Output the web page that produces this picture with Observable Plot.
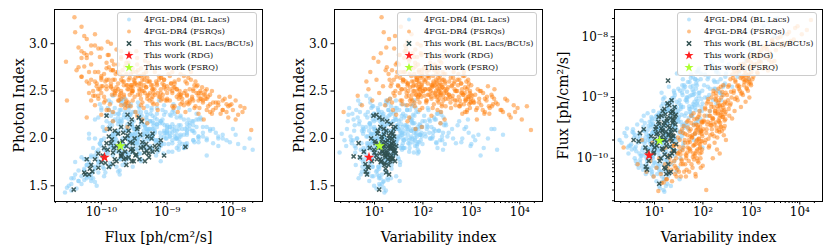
<!DOCTYPE html>
<html><head><meta charset="utf-8">
<script src="https://cdn.jsdelivr.net/npm/d3@7"></script>
<script src="https://cdn.jsdelivr.net/npm/@observablehq/plot@0.6"></script>
<style>
body{margin:0;background:#fff;}
#fig{position:relative;width:830px;height:251px;overflow:hidden;background:#fff;font-family:"DejaVu Serif","Liberation Serif",serif;}
#fig svg, #fig svg text{font-family:"DejaVu Serif","Liberation Serif",serif !important;}
.panel{position:absolute;top:0;}
.legend{position:absolute;top:12px;width:140px;height:64px;background:rgba(255,255,255,0.8);border:1px solid #cccccc;border-radius:3px;box-sizing:border-box;}
.legend svg{position:absolute;left:0;top:0;overflow:visible;}
</style></head><body><div id="fig"></div>
<script>
// Each source: [flux in units of 1e-10 ph/cm^2/s, photon index, variability index]
const FLUX_UNIT = 1e-10;

const blLacs = [
[1.8,2.05,2.1],[2.3,1.92,2.6],[1.5,2.18,2.8],[2.6,1.98,2.4],[1.2,2.25,2.9],[3.1,2.10,2.7],[2.0,1.85,1.9],[1.6,2.32,3.0],
[1.4,1.95,3.4],[2.2,2.08,3.8],[0.9,1.72,4.1],[1.8,2.22,4.5],[3.0,1.98,3.6],[1.1,1.88,5.2],[2.5,2.15,4.8],[0.75,1.65,5.5],[1.6,2.02,3.2],[2.9,1.90,5.9],[1.3,2.30,4.2],[0.85,1.80,5.0],[2.0,2.12,5.7],[3.6,2.00,4.4],[1.0,1.92,3.9],[1.9,1.78,5.3],[2.7,2.26,3.5],[0.7,1.58,4.7],[1.5,2.05,5.8],[2.4,1.85,4.0],[1.2,2.18,4.9],[4.2,1.95,5.4],[0.95,2.36,5.1],[1.7,1.98,3.3],[2.1,2.40,4.6],[1.35,1.70,5.6],[3.3,2.10,5.9],[0.8,2.00,4.3],[1.9,1.62,5.2],[2.6,2.20,3.7],[1.1,2.08,5.5],[1.55,1.90,4.1],[0.65,1.75,5.8],[2.3,2.28,5.0],[1.45,2.14,3.9],
[1.2,1.88,6.2],[2.5,2.02,6.8],[0.6,1.62,7.1],[3.4,1.95,7.5],[1.8,2.15,8.0],[0.9,1.75,8.4],[4.5,2.05,8.9],[1.5,1.98,9.3],[2.2,2.25,6.5],[0.7,1.55,7.8],[1.3,2.10,9.7],[2.8,1.85,6.1],[5.5,1.92,7.2],[1.0,2.32,8.6],[1.7,1.70,9.0],[3.0,2.12,9.9],[0.55,1.68,6.6],[2.0,1.90,7.4],[1.4,2.38,8.2],[6.0,2.00,9.5],[0.8,1.82,6.9],[2.4,2.08,7.7],[1.1,1.60,8.8],[3.8,1.78,6.3],[1.6,2.20,9.2],[0.95,1.95,7.0],[2.1,2.42,8.1],[1.25,1.84,9.6],[4.0,2.16,7.9],[0.65,2.05,8.5],[1.9,1.66,6.4],[2.7,1.96,9.1],[1.45,2.28,7.3],[0.85,1.50,9.8],[3.2,2.04,8.3],[1.05,2.12,6.7],[2.3,1.80,7.6],[1.65,2.00,8.7],[0.75,1.90,9.4],[5.0,2.08,6.0],[1.35,1.74,8.0],[2.6,2.34,9.0],[0.9,2.22,7.1],[1.75,1.86,6.2],[3.6,1.94,8.4],[1.15,1.64,7.5],[2.05,2.18,9.8],[0.6,1.78,8.9],[1.5,2.45,6.8],[2.9,2.02,7.2],[1.0,1.98,9.3],[4.8,1.88,8.6],[1.85,2.26,9.6],[0.7,1.72,6.5],[2.2,1.92,7.8],
[1.5,1.92,10.5],[3.0,2.05,11.2],[0.8,1.70,12.0],[5.2,1.98,12.8],[2.0,2.20,13.5],[0.5,1.52,14.2],[8.0,2.02,15.0],[1.2,1.85,15.8],[3.8,2.12,16.5],[0.35,1.45,17.2],[2.5,1.78,18.0],[6.5,2.08,18.8],[1.0,2.30,19.5],[1.8,1.65,10.8],[4.2,1.90,11.6],[0.65,1.60,12.4],[2.8,2.25,13.2],[12.0,1.95,14.0],[1.4,2.02,14.8],[0.45,1.55,15.6],[3.5,1.82,16.4],[2.2,2.35,17.2],[0.9,1.76,18.0],[7.0,2.15,18.8],[1.6,1.96,19.6],[2.6,2.10,10.2],[0.7,1.82,11.0],[4.8,2.22,11.8],[1.1,1.68,12.6],[3.2,1.94,13.4],[0.4,1.62,14.2],[9.5,2.00,15.0],[1.9,2.18,15.8],[5.8,1.88,16.6],[1.3,2.40,17.4],[0.6,1.72,18.2],[2.4,1.84,19.0],[15.0,1.92,19.8],[1.7,2.06,10.6],[0.55,1.66,11.4],[3.6,2.28,12.2],[2.1,1.80,13.0],[1.0,1.98,13.8],[4.5,2.04,14.6],[0.3,1.48,15.4],[2.9,2.14,16.2],[1.45,1.90,17.0],[6.0,1.86,17.8],[0.8,2.20,18.6],[2.3,1.74,19.4],[3.4,2.00,10.9],[1.25,2.32,11.7],[0.75,1.58,12.5],[5.5,2.10,13.3],[1.55,1.86,14.1],[2.7,2.24,14.9],[0.95,1.94,15.7],[4.0,1.76,16.5],[1.15,2.08,17.3],[7.5,1.96,18.1],[0.5,1.80,18.9],[2.0,2.38,19.7],[3.0,1.70,12.1],[1.35,2.16,13.9],[10.0,2.06,16.0],[0.65,2.00,17.6],[2.5,1.92,11.3],[1.8,2.26,15.3],[0.4,1.75,13.6],[3.9,1.84,19.2],
[0.28,1.43,16],[0.32,1.50,13],[0.42,1.47,11],
[3.0,1.98,20.5],[6.0,2.05,22.0],[1.5,1.82,23.5],[10.0,2.10,25.0],[2.2,2.22,26.5],[0.6,1.60,28.0],[4.5,1.92,29.5],[14.0,2.00,31.0],[2.6,2.30,32.5],[1.0,1.75,34.0],[7.0,2.15,35.5],[3.5,1.88,37.0],[20.0,1.95,38.5],[1.8,2.08,39.5],[5.0,2.25,21.0],[0.8,1.68,22.5],[3.8,2.02,24.0],[12.0,1.86,25.5],[2.0,1.96,27.0],[8.5,2.20,28.5],[1.3,2.12,30.0],[4.0,1.78,31.5],[0.45,1.55,33.0],[6.5,2.06,34.5],[2.8,2.36,36.0],[16.0,2.04,37.5],[1.6,1.90,39.0],[9.0,1.94,21.5],[2.4,1.84,23.0],[5.5,2.18,24.5],[1.1,2.00,26.0],[3.2,2.28,27.5],[25.0,1.98,29.0],[0.7,1.80,30.5],[4.8,2.10,32.0],[2.1,1.72,33.5],[7.5,1.90,35.0],[1.4,2.24,36.5],[11.0,2.12,38.0],[3.6,1.98,39.8],[2.9,2.16,20.2],[0.35,1.58,21.8],[6.8,1.82,24.8],[1.9,2.40,27.8],[4.2,2.02,30.8],[13.0,2.08,33.8],[2.3,1.92,36.8],[0.9,1.88,25.8],[5.8,2.32,28.8],[8.0,1.76,22.8],
[5.0,2.05,42],[10.0,2.12,46],[3.0,1.95,50],[15.0,2.00,55],[7.0,2.20,60],[2.0,1.85,65],[20.0,2.08,70],[8.0,1.92,75],[4.0,2.28,80],[12.0,2.15,85],[25.0,1.98,90],[6.0,2.02,95],[9.0,2.35,44],[3.5,2.10,48],[18.0,1.90,53],[5.5,2.18,58],[11.0,2.25,63],[2.5,2.00,68],[14.0,2.04,72],[7.5,1.88,78],[30.0,1.96,83],[4.5,2.14,88],[9.5,2.06,93],[1.5,1.94,98],[16.0,2.22,41],[6.5,1.98,52],[22.0,2.10,62],[3.8,2.32,71],[10.5,1.86,82],[13.0,2.12,97],[5.2,2.08,57],[8.5,2.16,67],[19.0,1.94,77],[2.8,2.04,87],[12.5,2.30,47],
[10,2.05,110],[20,2.12,125],[6,2.18,140],[30,2.00,155],[14,2.22,170],[8,1.95,190],[25,2.08,210],[12,2.28,230],[40,1.98,250],[16,2.14,275],[5,2.10,120],[35,2.02,160],[18,1.90,200],[9,2.25,240],[22,2.16,290],[11,2.06,135],[28,2.20,185],[15,1.88,260],
[30,2.02,320],[15,2.10,400],[50,1.95,480],[25,2.18,560],[70,2.00,650],[40,2.12,780],[20,2.06,880],[60,1.92,960],
[80,1.98,1200],[150,1.90,1800],[50,2.10,2600],[200,1.88,3400],[110,2.04,4500],
[2.4,2.12,8.3],[3.5,1.96,9.1],[1.6,2.26,9.9],[4.4,2.08,10.4],[2.9,1.88,11.1],[1.9,2.30,11.9],[5.6,2.02,12.3],[3.1,2.18,12.9],[2.1,1.94,13.7],[6.2,2.14,14.3],[1.7,2.06,14.9],[3.7,2.34,9.4],[2.6,1.82,10.1],[4.9,2.20,10.7],[1.45,2.00,11.5],[3.3,2.10,12.7],[2.3,2.36,13.1],[7.2,1.98,13.9],[1.95,1.78,14.5],[4.1,2.24,8.7],[2.75,2.04,9.7],[1.35,1.92,12.2],[5.1,1.90,11.3],[3.0,2.28,14.1],[0.85,1.86,10.3],[2.0,2.16,8.1],[0.6,1.58,13.3],[1.05,1.70,9.2],
[3.2,2.10,15.2],[5.0,2.00,16.1],[2.4,2.22,16.9],[7.8,2.06,17.7],[3.9,1.92,18.5],[2.0,2.30,19.3],[6.2,2.16,20.1],[4.4,1.98,21.0],[2.7,2.34,21.9],[9.0,2.08,22.8],[3.4,2.02,23.7],[5.6,2.26,24.6],[2.2,1.90,25.5],[11.0,2.12,26.4],[4.0,2.20,27.3],[6.8,1.96,28.2],[2.9,2.14,29.1],[1.5,2.04,15.8],[3.6,2.38,17.3],[8.2,1.94,18.9],[2.5,2.08,20.5],[4.8,2.28,22.1],[1.8,2.18,23.9],[13.0,2.02,25.1],[3.0,1.86,26.9],[5.3,2.10,28.7],[2.1,2.00,16.4],[6.0,2.24,19.7],[3.3,2.06,24.3],[1.2,1.88,21.3],[7.0,2.32,27.0],[4.6,2.14,29.8],[0.9,1.64,18.1],[1.4,1.72,22.6],[0.55,1.56,19.0],[2.6,1.80,17.0],[9.8,2.00,23.3],[3.7,1.84,26.1],[5.9,1.90,15.5],[2.3,2.42,20.8],
[6.0,2.10,31],[9.0,2.02,33],[4.0,2.20,35],[12.0,2.06,37],[7.0,2.26,39],[3.2,1.98,41],[15.0,2.14,43],[5.5,2.00,45],[8.5,2.30,47],[18.0,2.04,49],[4.6,2.12,51],[10.5,1.94,53],[6.5,2.22,55],[24.0,2.08,57],[5.0,2.34,59],[13.5,2.00,61],[7.8,2.16,63],[3.6,2.06,65],[11.5,2.24,67],[20.0,1.92,69],[6.2,2.10,71],[9.5,2.28,73],[16.0,2.02,75],[4.4,1.96,77],[28.0,2.12,79],[8.0,2.18,32],[5.2,2.04,36],[14.0,1.90,40],[3.8,2.24,44],[10.0,2.08,48],[7.2,1.86,52],[21.0,2.20,56],[4.9,2.16,60],[12.5,2.36,64],[6.8,1.98,68],[17.0,2.10,72],[2.6,2.00,38],[9.2,2.14,46],[5.8,2.30,54],[15.5,1.96,62],[3.4,1.90,42],[11.0,2.02,58],[7.5,2.40,66],[26.0,2.06,74],[8.8,1.84,78],
[12,2.10,82],[20,2.04,90],[8,2.18,98],[16,2.24,106],[30,2.02,114],[10,2.14,122],[22,2.30,130],[14,2.00,140],[35,2.12,150],[9,2.06,162],[18,2.20,175],[26,1.96,188],[13,2.26,202],[45,2.08,216],[20,2.16,232],[11,2.02,248],[32,2.22,266],[17,1.94,284],[7,2.12,94],[24,2.18,110],[15,2.32,126],[40,2.00,144],[19,2.10,168],[28,2.26,195],[12,1.98,225],[55,2.06,260],[25,2.14,300],[6,2.04,86],[33,2.20,135],[14,2.08,180],
[35,2.06,340],[60,2.00,420],[22,2.14,520],[90,1.96,620],[45,2.10,720],[30,2.20,850],[120,1.94,1000],[70,2.04,1400],[40,1.82,1550],[180,2.00,2200],[100,2.10,3000],[60,2.02,1100],
[0.35,1.52,12.5],[0.5,1.60,9.5],[0.45,1.66,16.5],[0.6,1.72,14.0],[0.38,1.58,18.5],[0.7,1.62,11.5],[0.55,1.78,8.8],[0.8,1.54,15.0]
];

const fsrqs = [
[1.5,2.28,2.3],[0.8,2.45,4.5],[2.0,2.35,5.5],[0.6,2.60,6.8],[1.2,2.52,7.5],[0.9,2.70,8.2],[1.8,2.40,9.0],[0.5,2.85,9.6],
[0.39,3.28,14],[0.7,2.62,11],[1.0,2.48,12.5],[0.55,2.90,13.5],[1.4,2.55,15],[0.8,2.35,16.5],[0.45,2.75,18],[1.1,2.68,19.5],[2.0,2.42,21],[0.65,2.58,22.5],[1.3,2.30,24],[0.9,2.95,25.5],[1.7,2.50,27],[0.5,2.65,28.5],[1.2,2.80,29.5],[2.4,2.38,23],[0.75,2.45,26],[1.5,2.72,17],[0.6,3.05,20],[1.0,2.25,28],[0.29,2.81,12],[0.4,3.12,15.5],[0.85,2.55,21.5],[1.6,2.62,25],[0.7,2.40,18.5],
[1.2,2.55,31],[2.0,2.48,33],[0.8,2.70,35],[3.0,2.40,37],[1.5,2.62,39],[0.6,2.85,41],[2.5,2.52,43],[1.0,2.95,45],[4.0,2.35,47],[1.8,2.58,49],[0.9,2.45,51],[2.8,2.68,53],[1.3,2.75,55],[5.0,2.42,57],[2.2,2.60,59],[0.7,2.90,61],[1.6,2.50,63],[3.5,2.56,65],[1.1,2.38,67],[2.6,2.80,69],[0.5,2.65,71],[1.9,2.46,73],[4.5,2.62,75],[1.4,3.00,77],[3.2,2.44,79],[0.85,2.58,81],[2.1,2.72,83],[6.0,2.38,85],[1.7,2.54,87],[1.0,2.66,89],[2.9,2.48,91],[1.25,2.88,93],[3.8,2.58,95],[2.3,2.32,97],[0.75,2.50,99],[1.55,2.78,32],[2.7,2.64,34],[0.95,2.52,36],[1.35,2.36,38],[3.4,2.70,40],[2.0,2.92,42],[1.15,2.60,44],[0.65,2.48,46],[2.4,2.56,48],[4.2,2.50,50],[1.45,2.82,52],[1.85,2.40,54],[3.0,2.74,56],[0.8,3.10,58],[2.2,2.46,60],[1.05,2.55,62],[5.5,2.60,64],[1.65,2.68,66],[2.5,2.34,68],[0.55,2.76,70],[3.6,2.46,72],[1.3,2.62,74],[2.0,2.86,76],[0.9,2.42,78],[4.8,2.54,80],[1.75,2.70,82],[2.6,2.52,84],[1.2,2.30,86],[3.3,2.64,88],[0.7,2.98,90],[1.9,2.44,92],[2.8,2.56,94],[1.4,2.72,96],[4.0,2.66,98],[0.6,2.22,52],
[3.0,2.50,102],[5.0,2.45,108],[2.0,2.62,114],[8.0,2.40,120],[4.0,2.58,126],[1.5,2.72,132],[6.0,2.52,138],[3.5,2.85,144],[10.0,2.42,150],[2.5,2.56,156],[4.5,2.66,162],[7.0,2.36,168],[1.8,2.78,174],[5.5,2.48,180],[12.0,2.50,186],[3.2,2.60,192],[2.2,2.44,198],[6.5,2.70,204],[4.2,2.38,210],[9.0,2.56,216],[1.2,2.62,222],[3.8,2.52,228],[15.0,2.46,234],[5.2,2.80,240],[2.8,2.34,246],[7.5,2.62,252],[4.8,2.54,258],[11.0,2.40,264],[2.4,2.68,270],[6.2,2.48,276],[3.4,2.92,282],[8.5,2.58,288],[5.8,2.42,294],[2.0,2.50,299],[4.0,2.74,105],[6.8,2.60,111],[2.6,2.38,117],[3.6,2.66,123],[9.5,2.52,129],[1.6,2.46,135],[5.0,2.88,141],[7.8,2.44,147],[3.0,2.54,153],[4.4,2.32,159],[13.0,2.60,165],[2.3,2.76,171],[6.0,2.56,177],[3.9,2.46,183],[10.5,2.68,189],[1.4,2.58,195],[5.4,2.40,201],[8.2,2.64,207],[2.9,2.50,213],[4.6,2.82,219],[7.2,2.48,225],[3.3,2.28,237],[12.5,2.54,249],[0.3,2.40,117],[1.0,2.55,160],[4.2,2.20,280],
[8,2.48,310],[15,2.42,330],[5,2.60,350],[20,2.38,370],[10,2.55,390],[30,2.45,410],[12,2.70,430],[6,2.52,450],[18,2.35,470],[25,2.50,490],[9,2.62,520],[14,2.44,550],[35,2.40,580],[7,2.58,610],[22,2.52,640],[11,2.66,670],[16,2.36,700],[28,2.48,730],[8.5,2.42,760],[19,2.60,790],[40,2.30,820],[13,2.54,850],[24,2.44,880],[10,2.74,910],[32,2.50,940],[17,2.38,970],[26,2.56,995],[6.5,2.46,340],[12.5,2.32,380],[21,2.64,420],[9.5,2.40,460],[15.5,2.50,510],[27,2.34,560],[11.5,2.58,620],[20,2.46,680],[34,2.54,740],[14.5,2.28,800],[23,2.62,860],[18,2.48,920],[38,2.42,980],[4.5,2.56,400],[30,2.26,650],[16,2.68,540],[22,2.40,760],[45,2.36,900],
[20,2.45,1050],[35,2.38,1150],[50,2.30,1250],[25,2.52,1350],[40,2.42,1450],[60,2.35,1600],[30,2.48,1750],[45,2.28,1900],[70,2.40,2050],[28,2.55,2200],[55,2.32,2400],[38,2.46,2600],[80,2.36,2800],[33,2.42,2950],[22,2.38,1100],[48,2.50,1500],[65,2.26,1850],[42,2.34,2300],[90,2.44,2700],[36,2.20,1300],
[60,2.38,3200],[100,2.30,4000],[75,2.42,5000],[120,2.25,6000],[90,2.35,7500],[150,2.32,9000],[110,2.20,11000],[130,2.34,14000],[190,2.09,17000],[80,2.28,4500],
[1.0,2.62,20.5],[1.6,2.48,24.5],[0.7,2.78,27.5],[2.2,2.56,30.5],[1.3,2.88,33.5],[0.9,2.52,36.5],[2.6,2.62,39.5],[1.8,2.70,42.5],[1.1,2.44,45.5],[3.2,2.58,48.5],[2.0,2.84,51.5],[1.4,2.54,54.5],[3.8,2.66,57.5],[2.4,2.40,60.5],[1.2,2.74,63.5],[4.4,2.50,66.5],[1.7,2.94,69.5],[2.9,2.56,72.5],[1.0,2.64,75.5],[3.5,2.78,78.5],[2.1,2.60,81.5],[5.2,2.46,84.5],[1.5,2.52,87.5],[2.7,2.90,90.5],[4.0,2.54,93.5],[1.9,2.68,96.5],[0.8,2.60,38.5],[1.25,3.02,47.5],[2.3,2.36,55.5],[0.95,2.86,65.5],[3.0,2.50,76.5],[1.45,2.46,85.5],[0.65,2.70,29.5],[1.15,2.40,34.5],[0.5,2.92,44.5],
[4.2,2.62,104],[6.4,2.52,112],[3.0,2.70,119],[8.6,2.46,127],[5.0,2.64,134],[2.4,2.80,142],[7.0,2.56,149],[4.6,2.48,157],[11.5,2.58,164],[3.6,2.72,172],[6.0,2.44,179],[9.0,2.62,187],[2.8,2.54,194],[5.6,2.76,202],[14.0,2.52,209],[4.0,2.42,217],[7.5,2.66,224],[3.3,2.58,232],[10.0,2.48,239],[6.2,2.36,247],[4.8,2.70,255],[16.0,2.44,262],[3.1,2.62,270],[8.0,2.52,278],[5.3,2.60,286],[12.0,2.34,294],[2.1,2.66,130],[9.5,2.74,181],[2.7,2.46,220],[6.8,2.86,265],[3.8,2.50,145],[7.2,2.30,200],[5.7,2.56,240],[4.4,2.68,290],[1.8,2.52,110],
[11,2.52,315],[16,2.46,345],[8,2.64,375],[24,2.42,405],[13,2.58,435],[19,2.50,465],[10,2.40,495],[29,2.56,530],[15,2.62,565],[21,2.36,600],[12,2.48,640],[36,2.46,680],[18,2.66,720],[25,2.40,760],[14,2.52,800],[42,2.44,845],[20,2.58,890],[31,2.32,935],[16,2.46,985],[9,2.54,330],[27,2.60,450],[13,2.34,580],[23,2.70,700],[17,2.42,880],[50,2.38,960],[7.5,2.44,360],[33,2.48,620],[19,2.28,740],
[30,2.40,1080],[45,2.46,1200],[26,2.32,1320],[55,2.38,1450],[38,2.50,1580],[70,2.30,1720],[32,2.42,1900],[62,2.44,2100],[48,2.26,2350],[85,2.34,2650],[40,2.52,3000],[95,2.36,3500],[70,2.30,4200],[110,2.40,5500],[85,2.22,6500],[140,2.28,8000],
[0.45,2.96,17.5],[0.55,3.08,26.5],[0.6,2.88,32],[0.42,2.72,23],[0.8,2.98,43],[0.5,3.18,35],
[1.5,2.18,48],[2.5,2.12,95],[3.5,2.24,150],[1.2,2.10,70],[5.0,2.16,230]
];

const thisWork = [
[2.0,1.81,3.7],[1.9,1.95,4.7],[3.0,1.86,6.0],[0.73,1.65,6.6],[1.5,1.73,6.5],[2.6,1.80,5.0],[1.3,1.70,7.2],[0.65,1.62,7.0],[1.1,1.90,8.0],[2.3,2.00,8.5],[0.9,1.69,7.6],[1.7,1.76,8.8],
[1.2,2.24,9.5],[2.5,2.25,11],[0.38,1.46,12.5],[19,1.91,19],[0.57,1.62,20],[0.67,1.68,17],
[1.5,1.85,10],[3.0,1.95,10.5],[1.8,2.05,11.5],[4.0,1.90,12],[2.2,1.78,13],[1.0,1.75,13.5],[5.0,2.02,14],[2.8,1.88,14.5],[1.4,1.95,15],[3.5,2.10,15.5],[6.5,1.92,16],[2.0,1.82,16.5],[1.6,2.08,17.5],[4.5,1.85,18],[8.0,1.98,18.5],[2.4,1.72,19.5],[3.2,2.00,20.5],[1.1,1.80,21],[5.5,1.90,21.5],[2.7,2.15,22],[9.0,1.82,22.5],[1.9,1.94,23],[3.8,1.78,23.5],[6.0,2.05,24],[2.3,1.86,24.5],[4.2,1.96,25],[1.3,2.02,25.5],[7.0,1.88,26],[2.9,1.76,26.5],[3.6,2.12,27],[5.2,1.84,27.5],[1.7,1.92,28],
[1.25,1.88,9.8],[2.1,1.97,10.2],[3.3,1.82,10.8],[1.6,1.78,11.2],[2.6,2.08,11.8],[4.8,1.94,12.2],[0.9,1.84,12.8],[2.0,2.12,13.2],[3.1,1.76,13.8],[1.45,1.99,14.2],[6.0,1.86,14.8],[2.4,1.92,15.2],[3.9,2.04,15.8],[1.15,1.74,16.2],[5.3,1.80,16.8],[2.75,1.96,17.2],[1.85,1.87,17.8],[4.1,2.18,18.2],[3.4,1.83,18.8],[0.8,1.78,19.2],[2.5,2.03,19.8],[7.5,1.93,20.2],[1.55,1.90,20.8],[4.6,1.76,21.2],[2.15,2.06,21.8],[3.0,1.89,22.2],[1.2,1.95,22.8],[5.8,2.00,23.2],[2.35,1.79,23.8],[4.4,1.91,24.2],[0.7,1.72,16],[1.05,1.82,18.6],[3.7,2.22,12.6],[2.9,2.20,14.6],[0.6,1.78,21.6],[1.35,2.10,24.8],[4.9,1.87,26.2],[2.05,1.84,15.6],[0.55,1.64,17.4]
];

const rdgSource = [[1.12,1.80,7.7]];
const fsrqSource = [[1.95,1.92,12.7]];

const indexTicks = [1.5, 2.0, 2.5, 3.0];
const indexTickLabels = ["1.5", "2.0", "2.5", "3.0"];
const fluxTicks = [1e-10, 1e-9, 1e-8];
const fluxTickLabels = ["10\u207B\u00B9\u2070", "10\u207B\u2079", "10\u207B\u2078"];
const varTicks = [10, 100, 1000, 10000];
const varTickLabels = ["10\u00B9", "10\u00B2", "10\u00B3", "10\u2074"];
const legendLabels = ["4FGL-DR4 (BL Lacs)", "4FGL-DR4 (FSRQs)", "This work (BL Lacs/BCUs)", "This work (RDG)", "This work (FSRQ)"];
const axisTitles = {flux: "Flux [ph/cm\u00B2/s]", index: "Photon Index", vari: "Variability index"};

const colors = {bl: "#87cefa", fsrq: "#ff7f0e", tw: "#2f4f4f", rdg: "#ff2020", fsrqNew: "#adff2f"};

const accessors = {
  flux: d => d[0] * FLUX_UNIT,
  index: d => d[1],
  vari: d => d[2]
};
const domains = {
  flux: [10 ** -10.712, 10 ** -7.55],
  index: [1.334, 3.361],
  vari: [10 ** 0.174, 10 ** 4.469]
};
const scaleTypes = {flux: "log", index: "linear", vari: "log"};
const tickSets = {
  flux: [fluxTicks, fluxTickLabels],
  index: [indexTicks, indexTickLabels],
  vari: [varTicks, varTickLabels]
};
const FONT = "'DejaVu Serif', 'Liberation Serif', serif";

function minorTicks(domain) {
  const [lo, hi] = domain, t = [];
  for (let e = Math.floor(Math.log10(lo)); e <= Math.ceil(Math.log10(hi)); e++)
    for (let k = 2; k <= 9; k++) { const v = k * 10 ** e; if (v >= lo && v <= hi) t.push(v); }
  return t;
}

function makePanel(xKey, yKey, left, marginLeft, yLabelOffset) {
  const fx = accessors[xKey], fy = accessors[yKey];
  const [xt, xl] = tickSets[xKey], [yt, yl] = tickSets[yKey];
  const marks = [
    Plot.dot(blLacs, {x: fx, y: fy, r: 2.25, fill: colors.bl, fillOpacity: 0.55}),
    Plot.dot(fsrqs, {x: fx, y: fy, r: 2.25, fill: colors.fsrq, fillOpacity: 0.5}),
    Plot.dot(thisWork, {x: fx, y: fy, r: 2, symbol: "times", stroke: colors.tw, strokeWidth: 1.5, strokeOpacity: 0.9}),
    Plot.dot(rdgSource, {x: fx, y: fy, r: 3.3, symbol: "star", fill: colors.rdg}),
    Plot.dot(fsrqSource, {x: fx, y: fy, r: 3.3, symbol: "star", fill: colors.fsrqNew}),
    Plot.frame({stroke: "black", strokeWidth: 1}),
    Plot.axisX(xt, {tickSize: 3.5, tickPadding: 2, fontSize: 12, fontFamily: FONT, tickFormat: d => xl[xt.indexOf(d)], label: null}),
    Plot.axisY(yt, {tickSize: 3.5, tickPadding: 3, fontSize: 12, fontFamily: FONT, tickFormat: d => yl[yt.indexOf(d)], label: null}),
    Plot.axisX([], {tickSize: 0, label: axisTitles[xKey], labelAnchor: "center", labelArrow: "none", labelOffset: 40, fontSize: 14, fontFamily: FONT}),
    Plot.axisY([], {tickSize: 0, label: axisTitles[yKey], labelAnchor: "center", labelArrow: "none", labelOffset: yLabelOffset, fontSize: 14, fontFamily: FONT})
  ];
  if (scaleTypes[xKey] === "log") marks.push(Plot.axisX(minorTicks(domains[xKey]), {tickSize: 2, tickFormat: () => "", label: null}));
  if (scaleTypes[yKey] === "log") marks.push(Plot.axisY(minorTicks(domains[yKey]), {tickSize: 2, tickFormat: () => "", label: null}));
  const svg = Plot.plot({
    width: marginLeft + 216, height: 251,
    marginLeft, marginRight: 8, marginTop: 9, marginBottom: 50,
    x: {type: scaleTypes[xKey], domain: domains[xKey]},
    y: {type: scaleTypes[yKey], domain: domains[yKey]},
    style: {fontFamily: FONT, background: "transparent", color: "black", overflow: "visible"},
    marks
  });
  svg.classList.add("panel");
  svg.style.left = left + "px";
  document.getElementById("fig").appendChild(svg);
  addLegend(left + marginLeft + 63);
}

function addLegend(x) {
  const div = d3.select("#fig").append("div").attr("class", "legend").style("left", x + "px");
  const svg = div.append("svg").attr("width", 140).attr("height", 64);
  const sym = [
    {type: d3.symbolCircle, size: 12, fill: colors.bl, op: 0.55},
    {type: d3.symbolCircle, size: 12, fill: colors.fsrq, op: 0.5},
    {type: d3.symbolTimes, size: 14, stroke: colors.tw},
    {type: d3.symbolStar, size: 26, fill: colors.rdg},
    {type: d3.symbolStar, size: 26, fill: colors.fsrqNew}
  ];
  legendLabels.forEach((lab, i) => {
    const y = 6.5 + 12 * i, s = sym[i];
    svg.append("path").attr("transform", `translate(11,${y})`)
      .attr("d", d3.symbol(s.type, s.size)())
      .attr("fill", s.fill || "none").attr("fill-opacity", s.op || 1)
      .attr("stroke", s.stroke || "none").attr("stroke-width", 1.5);
    svg.append("text").attr("x", 26).attr("y", y).attr("dy", "0.35em")
      .attr("font-size", 8.2).attr("font-family", FONT).attr("fill", "#111").text(lab);
  });
}

makePanel("flux", "index", 0, 54, 40);
makePanel("vari", "index", 280, 54, 40);
makePanel("vari", "flux", 550, 64, 56);
</script></body></html>
